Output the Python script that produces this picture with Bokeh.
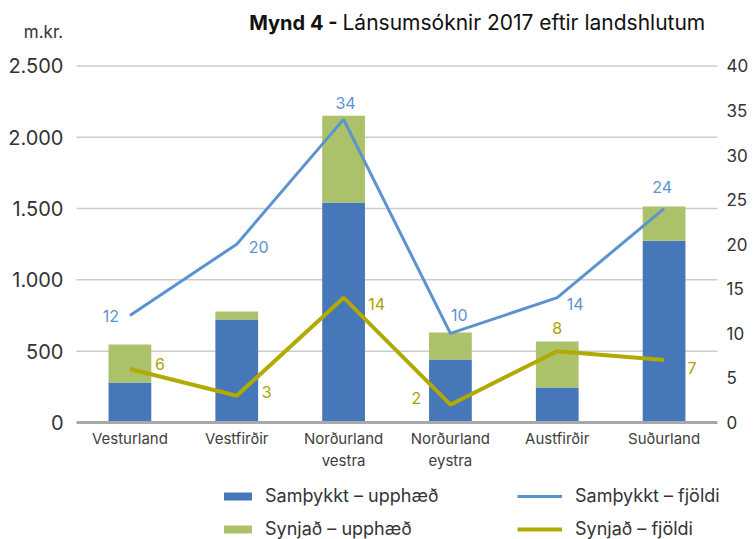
from bokeh.plotting import figure
from bokeh.models import (Range1d, LinearAxis, FixedTicker, Legend, LegendItem,
                          Label, ColumnDataSource)
from bokeh.embed import file_html
from bokeh.resources import INLINE
from bokeh.core.properties import value

# ---- data ----
categories = ["Vesturland", "Vestfirðir", "Norðurland\nvestra",
              "Norðurland\neystra", "Austfirðir", "Suðurland"]
samthykkt_upphaed = [280, 722, 1542, 441, 245, 1275]
synjad_upphaed = [267, 56, 609, 190, 323, 239]
samthykkt_fjoldi = [12, 20, 34, 10, 14, 24]
synjad_fjoldi = [6, 3, 14, 2, 8, 7]
left_ticks = [0, 500, 1000, 1500, 2000, 2500]
left_tick_labels = ["0", "500", "1.000", "1.500", "2.000", "2.500"]
right_ticks = [0, 5, 10, 15, 20, 25, 30, 35, 40]

# ---- label placement (style, screen px) ----
sam_dx = [-19, 22, 2, 9, 18, -2]
sam_dy = [0, 3, -16, -18, 6, -22]
syn_dx = [30, 30, 33, -34, 0, 28]
syn_dy = [-5, -4, 6, -7, -23, 8]

FONT = "Inter"
BLUE_BAR = "#4677b8"
GREEN_BAR = "#abc26b"
BLUE_LINE = "#5b93d0"
OLIVE = "#b2aa00"

# ---- layout geometry (pixels) ----
W, H = 754, 539
PLOT_L, PLOT_R = 76, 717      # plot area left / right
PLOT_T, PLOT_B = 65.4, 422    # y of top tick / zero line
n = len(categories)
cat_w = (PLOT_R - PLOT_L) / n
x_start = -0.5 - PLOT_L / cat_w
x_end = n - 0.5 + (W - PLOT_R) / cat_w
ymax = left_ticks[-1]
ppu = (PLOT_B - PLOT_T) / ymax
y_start = -(H - PLOT_B) / ppu
y_end = ymax + PLOT_T / ppu
rmax = right_ticks[-1]

xs = list(range(n))

p = figure(width=W, height=H, x_range=Range1d(x_start, x_end),
           y_range=Range1d(y_start, y_end), output_backend="svg",
           toolbar_location=None, min_border=0, x_axis_type=None,
           y_axis_type=None)
p.extra_y_ranges = {"n": Range1d(y_start * rmax / ymax, y_end * rmax / ymax)}
p.outline_line_color = None
p.background_fill_color = "white"
p.border_fill_color = "white"
p.xgrid.visible = False
p.ygrid.visible = False

src = ColumnDataSource(dict(x=xs, sam=samthykkt_upphaed,
                            syn=synjad_upphaed, samn=samthykkt_fjoldi,
                            synn=synjad_fjoldi,
                            samt=[str(v) for v in samthykkt_fjoldi],
                            synt=[str(v) for v in synjad_fjoldi],
                            sdx=sam_dx, sdy=sam_dy, ydx=syn_dx, ydy=syn_dy))

# grid lines
grid_ticks = left_ticks[1:]
p.segment(x0=[-0.5] * len(grid_ticks), x1=[n - 0.5] * len(grid_ticks),
          y0=grid_ticks, y1=grid_ticks, line_color="#cccccc", line_width=1.5)

bars = p.vbar_stack(["sam", "syn"], x="x", width=0.4, source=src,
                    color=[BLUE_BAR, GREEN_BAR], line_color=None)
l1 = p.line("x", "samn", source=src, y_range_name="n", line_color=BLUE_LINE,
            line_width=3)
l2 = p.line("x", "synn", source=src, y_range_name="n", line_color=OLIVE,
            line_width=4)

p.text("x", "samn", text="samt", source=src, y_range_name="n",
       x_offset="sdx", y_offset="sdy", text_align="center",
       text_baseline="middle", text_color=BLUE_LINE,
       text_font=value(FONT), text_font_size="16px")
p.text("x", "synn", text="synt", source=src, y_range_name="n",
       x_offset="ydx", y_offset="ydy", text_align="center",
       text_baseline="middle", text_color="#aba300",
       text_font=value(FONT), text_font_size="16px")

# axes (fixed inside the frame)
la = LinearAxis(ticker=FixedTicker(ticks=left_ticks), fixed_location=-0.5,
                bounds=(0, ymax))
la.major_label_overrides = {t: s for t, s in zip(left_ticks, left_tick_labels)}
la.axis_line_color = None
la.major_tick_line_color = None
la.minor_tick_line_color = None
la.major_tick_out = 0
la.major_tick_in = 0
la.major_label_standoff = 13
la.major_label_text_font = FONT
la.major_label_text_font_size = "20px"
la.major_label_text_color = "#333333"
p.add_layout(la, "left")

ra = LinearAxis(y_range_name="n", ticker=FixedTicker(ticks=right_ticks),
                fixed_location=n - 0.5, bounds=(0, rmax))
ra.axis_line_color = None
ra.major_tick_line_color = None
ra.minor_tick_line_color = None
ra.major_tick_out = 0
ra.major_tick_in = 0
ra.major_label_standoff = 9
ra.major_label_text_font = FONT
ra.major_label_text_font_size = "17px"
ra.major_label_text_color = "#333333"
p.add_layout(ra, "right")

xa = LinearAxis(ticker=FixedTicker(ticks=xs), fixed_location=0,
                bounds=(-0.5, n - 0.5))
xa.major_label_overrides = {i: c for i, c in zip(xs, categories)}
xa.axis_line_color = "#a8a8a8"
xa.axis_line_width = 3
xa.major_tick_line_color = None
xa.minor_tick_line_color = None
xa.major_tick_out = 0
xa.major_tick_in = 0
xa.major_label_standoff = 6
xa.major_label_text_font = FONT
xa.major_label_text_font_size = "15px"
xa.major_label_text_color = "#404040"
p.add_layout(xa, "below")

# legends
leg1 = Legend(items=[LegendItem(label="Samþykkt – upphæð", renderers=[bars[0]]),
                     LegendItem(label="Synjað – upphæð", renderers=[bars[1]])],
              location=(220, 0), glyph_width=35, glyph_height=10,
              label_height=16, spacing=12, padding=0, margin=0,
              label_standoff=10, border_line_color=None,
              background_fill_alpha=0, label_text_font=FONT,
              label_text_font_size="18px", label_text_color="#333333")
leg2 = Legend(items=[LegendItem(label="Samþykkt – fjöldi", renderers=[l1]),
                     LegendItem(label="Synjað – fjöldi", renderers=[l2])],
              location=(517, 0), glyph_width=45, glyph_height=10,
              label_height=16, spacing=12, padding=0, margin=0,
              label_standoff=13, border_line_color=None,
              background_fill_alpha=0, label_text_font=FONT,
              label_text_font_size="18px", label_text_color="#333333")
p.add_layout(leg1, "center")
p.add_layout(leg2, "center")

# title and unit label
p.add_layout(Label(x=337, y=H - 22, x_units="screen", y_units="screen",
                   text="Mynd 4 -", text_align="right",
                   text_baseline="alphabetic",
                   text_font=FONT, text_font_style="bold",
                   text_font_size="20px", text_color="#111111"))
p.add_layout(Label(x=342, y=H - 22, x_units="screen", y_units="screen",
                   text="Lánsumsóknir 2017 eftir landshlutum", text_align="left",
                   text_baseline="alphabetic", text_font=FONT,
                   text_font_size="21px", text_color="#111111"))
p.add_layout(Label(x=43, y=H - 31, x_units="screen", y_units="screen",
                   text="m.kr.", text_align="center",
                   text_baseline="alphabetic",
                   text_font=FONT, text_font_size="17px", text_color="#333333"))

open("out.html", "w").write(file_html(p, INLINE))
